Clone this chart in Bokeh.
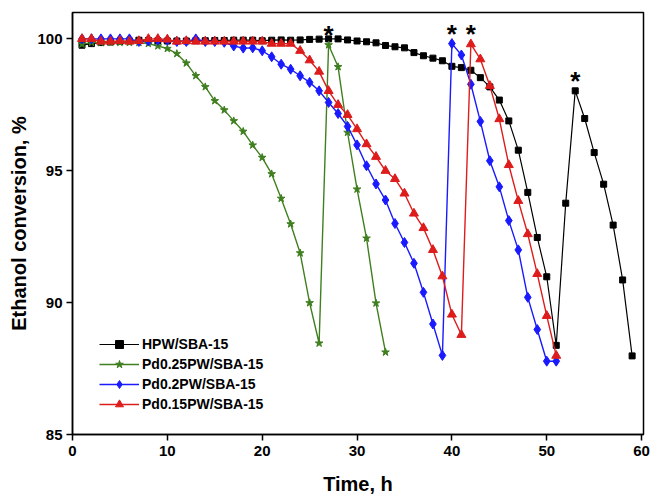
from bokeh.plotting import figure
from bokeh.models import Range1d, FixedTicker, Legend, LegendItem
from bokeh.core.properties import value
from bokeh.embed import file_html
from bokeh.resources import INLINE

# ---- data ----
hpw_t = list(range(1, 60))
hpw_y = [99.76, 99.82, 99.86, 99.88, 99.90, 99.92, 99.95, 99.94, 99.93, 99.92,
         99.92, 99.92, 99.93, 99.93, 99.94, 99.94, 99.95, 99.95, 99.95, 99.93,
         99.95, 99.96, 99.95, 99.96, 99.98, 99.99, 100.0, 100.0, 99.96, 99.92,
         99.89, 99.85, 99.75, 99.70, 99.66, 99.48, 99.36, 99.27, 99.17, 98.96,
         98.91, 98.81, 98.53, 98.18, 97.68, 96.89, 95.78, 94.18, 92.47, 90.98,
         88.38, 93.77, 98.03, 96.98, 95.69, 94.49, 92.94, 90.86, 87.98]

pd025_t = list(range(1, 34))
pd025_y = [99.80, 99.86, 99.86, 99.86, 99.86, 99.86, 99.86, 99.82, 99.73, 99.63,
           99.44, 99.08, 98.60, 98.18, 97.65, 97.30, 96.89, 96.49, 95.97, 95.50,
           94.88, 93.95, 92.98, 91.88, 89.99, 88.46, 99.77, 98.94, 96.45, 94.30,
           92.44, 89.98, 88.12]

pd02_t = list(range(1, 52))
pd02_y = [100.0, 100.0, 100.0, 100.0, 100.0, 100.0, 99.90, 99.92, 99.95, 99.95,
          99.90, 99.90, 100.0, 99.90, 99.90, 99.87, 99.73, 99.65, 99.66, 99.55,
          99.32, 99.04, 98.85, 98.60, 98.35, 98.03, 97.59, 97.17, 96.68, 95.98,
          95.19, 94.50, 93.89, 93.00, 92.28, 91.49, 90.39, 89.19, 88.00, 99.82,
          99.39, 98.28, 96.87, 95.38, 94.39, 93.11, 92.00, 90.20, 88.98, 87.78,
          87.78]

pd015_t = list(range(1, 52))
pd015_y = [100.0, 100.0, 99.90, 99.90, 99.92, 99.90, 99.92, 100.0, 100.0, 99.98,
           99.90, 99.92, 99.90, 99.90, 99.90, 99.90, 99.90, 99.90, 99.90, 99.90,
           99.82, 99.82, 99.82, 99.55, 99.19, 98.76, 98.03, 97.50, 97.12, 96.58,
           96.01, 95.53, 95.00, 94.69, 94.14, 93.38, 92.83, 92.00, 91.00, 89.55,
           88.78, 99.80, 99.23, 98.22, 96.96, 95.22, 93.86, 92.60, 91.09, 89.50,
           87.99]

labels = ["HPW/SBA-15", "Pd0.25PW/SBA-15", "Pd0.2PW/SBA-15", "Pd0.15PW/SBA-15"]
# regeneration points marked with "*"
regen_times = {"HPW/SBA-15": [53], "Pd0.25PW/SBA-15": [27],
               "Pd0.2PW/SBA-15": [40], "Pd0.15PW/SBA-15": [42]}

x_ticks = [0, 10, 20, 30, 40, 50, 60]
y_ticks = [85, 90, 95, 100]

FONT = "Liberation Sans"

p = figure(width=654, height=499, output_backend="svg", toolbar_location=None,
           x_range=Range1d(0, 60.2), y_range=Range1d(85, 101))
p.min_border_left = 72
p.min_border_right = 11
p.min_border_top = 12
p.min_border_bottom = 65
p.xgrid.visible = False
p.ygrid.visible = False
p.outline_line_color = "black"
p.outline_line_width = 1.5
p.background_fill_color = "white"
p.border_fill_color = "white"

for ax in (p.xaxis, p.yaxis):
    ax.axis_line_width = 1.5
    ax.axis_line_color = "black"
    ax.major_tick_line_width = 1.5
    ax.major_tick_line_color = "black"
    ax.major_tick_out = 6
    ax.major_tick_in = 0
    ax.minor_tick_line_color = None
    ax.major_label_text_font = FONT
    ax.major_label_text_font_style = "bold"
    ax.major_label_text_font_size = "15px"
    ax.major_label_text_color = "black"
    ax.axis_label_text_font = FONT
    ax.axis_label_text_font_style = "bold"
    ax.axis_label_text_font_size = "20px"
    ax.axis_label_text_color = "black"

p.xaxis.ticker = FixedTicker(ticks=x_ticks)
p.yaxis.ticker = FixedTicker(ticks=y_ticks)
p.xaxis.axis_label = "Time, h"
p.yaxis.axis_label = "Ethanol conversion, %"
p.xaxis.major_label_standoff = 5
p.yaxis.major_label_standoff = 4
p.xaxis.axis_label_standoff = 14
p.yaxis.axis_label_standoff = 4

series = [
    (hpw_t, hpw_y, "black", "square", 6, 1.2),
    (pd025_t, pd025_y, "#3f7f1f", "star", 8, 1.4),
    (pd02_t, pd02_y, "#1a1aff", "diamond", 10, 1.4),
    (pd015_t, pd015_y, "#dd1c1c", "triangle", 9, 1.4),
]

items = []
for (t, yv, col, mk, sz, lw), lab in zip(series, labels):
    r1 = p.line(t, yv, line_color=col, line_width=lw)
    r2 = p.scatter(t, yv, marker=mk, size=sz, fill_color=col, line_color=col)
    items.append(LegendItem(label=lab, renderers=[r1, r2]))
    px = regen_times[lab]
    py = [yv[t.index(v)] for v in px]
    p.text(px, py, text=["*"] * len(px), text_align="center",
           text_baseline="middle", text_font=value(FONT),
           text_font_style="bold", text_font_size="26px", text_color="black",
           y_offset=-10)

legend = Legend(items=items, location=(27, 20), orientation="vertical")
legend.border_line_color = None
legend.background_fill_alpha = 0
legend.padding = 0
legend.margin = 0
legend.spacing = 0
legend.label_height = 20
legend.glyph_height = 20
legend.glyph_width = 40
legend.label_standoff = 3
legend.label_text_font = FONT
legend.label_text_font_style = "bold"
legend.label_text_font_size = "14px"
legend.label_text_color = "black"
p.add_layout(legend, "center")

open("out.html", "w").write(file_html(p, INLINE))
